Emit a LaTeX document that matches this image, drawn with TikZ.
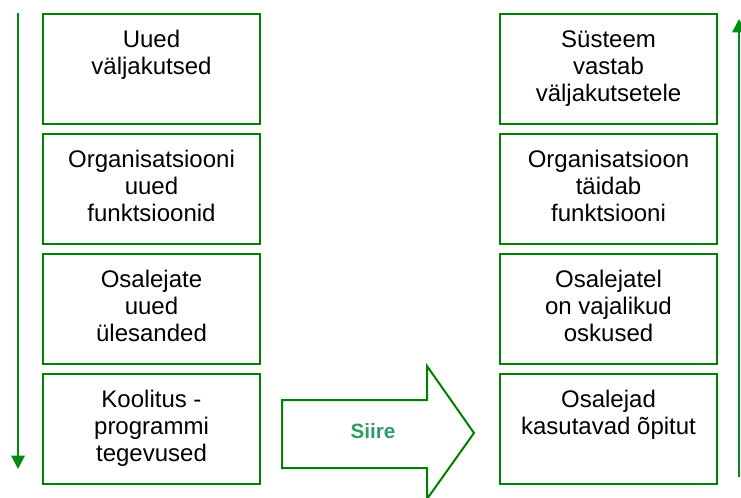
\documentclass[tikz,border=0pt]{standalone}
\usepackage{fontspec}
\setmainfont{Liberation Sans}
\usetikzlibrary{arrows.meta}
\definecolor{boxgreen}{RGB}{0,128,0}
\definecolor{arrgreen}{RGB}{0,140,20}
\definecolor{siiregreen}{RGB}{51,153,102}
\begin{document}
\begin{tikzpicture}[x=0.75pt,y=-0.75pt,
  stagebox/.style={draw=boxgreen,line width=1.5pt,minimum width=217*0.75pt,minimum height=110*0.75pt,inner sep=0pt,anchor=north west},
  stagetext/.style={anchor=north,align=center,inner sep=0pt,font=\fontsize{18}{20.25}\selectfont},
  flow/.style={draw=arrgreen,line width=1.5pt,-{Triangle[length=10pt,width=10pt]}}]
\useasboundingbox (0,0) rectangle (741,498);
% left column
\node[stagebox] (l1) at (42,13) {};
\node[stagebox] (l2) at (42,133) {};
\node[stagebox] (l3) at (42,253) {};
\node[stagebox] (l4) at (42,373) {};
% right column
\node[stagebox] (r1) at (499,13) {};
\node[stagebox] (r2) at (499,133) {};
\node[stagebox] (r3) at (499,253) {};
\node[stagebox] (r4) at (499,373) {};
% texts
\node[stagetext] (tl1) at ([yshift=-15.3*0.75pt]l1.north) {\strut Uued\\väljakutsed};
\node[stagetext] (tl2) at ([yshift=-15.3*0.75pt]l2.north) {\strut Organisatsiooni\\uued\\funktsioonid};
\node[stagetext] (tl3) at ([yshift=-15.3*0.75pt]l3.north) {\strut Osalejate\\uued\\ülesanded};
\node[stagetext] (tl4) at ([yshift=-15.3*0.75pt]l4.north) {\strut Koolitus -\\programmi\\tegevused};
\node[stagetext] (tr1) at ([yshift=-15.3*0.75pt]r1.north) {\strut Süsteem\\vastab\\väljakutsetele};
\node[stagetext] (tr2) at ([yshift=-15.3*0.75pt]r2.north) {\strut Organisatsioon\\täidab\\funktsiooni};
\node[stagetext] (tr3) at ([yshift=-15.3*0.75pt]r3.north) {\strut Osalejatel\\on vajalikud\\oskused};
\node[stagetext] (tr4) at ([yshift=-15.3*0.75pt]r4.north) {\strut Osalejad\\kasutavad õpitut};
% side arrows
\coordinate (la) at (18,13);
\coordinate (lb) at (18,469);
\draw[flow] (la) -- (lb);
\coordinate (ra) at (739,477);
\coordinate (rb) at (739,19);
\draw[flow] (ra) -- (rb);
% big arrow
\draw[draw=boxgreen,line width=1.5pt,line join=miter]
  (282,400) -- (427,400) -- (427,366) -- (474,433) -- (427,499) -- (427,468) -- (282,468) -- cycle;
\node[font=\bfseries\fontsize{15.5}{18}\selectfont,text=siiregreen] (siire) at (373,431) {Siire};
\end{tikzpicture}
\end{document}
